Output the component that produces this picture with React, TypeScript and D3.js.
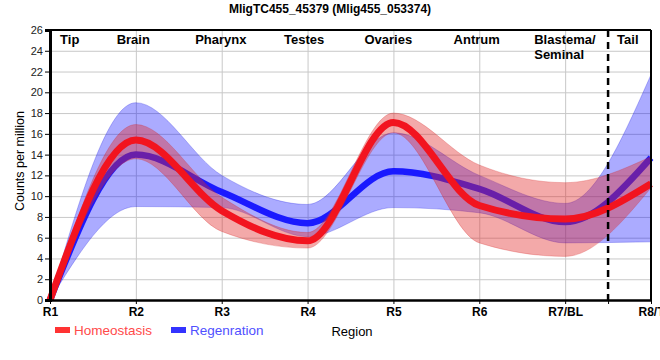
import { useEffect, useRef } from 'react';
import * as d3 from 'd3';

// regions along the worm (x axis)
const regionTicks = ["R1", "R2", "R3", "R4", "R5", "R6", "R7/BL", "R8/T"];
const regionNames = ["Tip", "Brain", "Pharynx", "Testes", "Ovaries", "Antrum", "Blastema/\nSeminal", "Tail"];

// Homeostasis: mean line and band (counts per million)
const homeoMean = [0, 15.4, 8.6, 5.7, 17.1, 9.1, 7.8, 11.2];
const homeoUpper = [0, 16.9, 9.9, 6.5, 18.0, 13.0, 11.3, 13.8];
const homeoLower = [0, 13.6, 6.6, 5.0, 16.1, 5.5, 4.2, 10.8];

// Regeneration: mean line and band
const regenMean = [0, 14.0, 10.4, 7.4, 12.4, 10.7, 7.5, 13.7];
const regenUpper = [0, 19.0, 12.0, 9.2, 16.1, 12.0, 9.3, 21.7];
const regenLower = [0, 9.0, 8.9, 6.1, 8.9, 8.4, 5.5, 5.6];

const yTicks = d3.range(0, 27, 2);

export default function App() {
    const svgRef = useRef<SVGSVGElement>(null);

    useEffect(() => {
        if (!svgRef.current) return;
        const svg = d3.select(svgRef.current);
        svg.selectAll("*").remove();

        const width = 660;
        const height = 360;
        const marginLeft = 50;
        const marginRight = 9;
        const marginTop = 30;
        const marginBottom = 60;
        const font = "'Liberation Sans', Arial, sans-serif";

        const x = d3.scaleLinear()
            .domain([1, 8])
            .range([marginLeft, width - marginRight]);
        const y = d3.scaleLinear()
            .domain([0, 26])
            .range([height - marginBottom, marginTop]);

        const idx = d3.range(regionTicks.length);

        // gridlines
        const grid = svg.append("g").attr("stroke", "#c8c8c8").attr("stroke-width", 1);
        grid.selectAll("line.h")
            .data(yTicks.filter(t => t > 0 && t < 26))
            .join("line")
            .attr("x1", x(1)).attr("x2", x(8))
            .attr("y1", d => y(d) + 0.5).attr("y2", d => y(d) + 0.5);
        grid.selectAll("line.v")
            .data(idx.slice(1, 7))
            .join("line")
            .attr("x1", d => x(d + 1) + 0.5).attr("x2", d => x(d + 1) + 0.5)
            .attr("y1", y(26)).attr("y2", y(0));

        const area = (up: number[], lo: number[]) => d3.area<number>()
            .x(i => x(i + 1))
            .y0(i => y(lo[i]))
            .y1(i => y(up[i]))
            .curve(d3.curveMonotoneX)(idx);
        const line = (v: number[]) => d3.line<number>()
            .x(i => x(i + 1))
            .y(i => y(v[i]))
            .curve(d3.curveMonotoneX)(idx);

        // regeneration band + line
        svg.append("path")
            .attr("d", area(regenUpper, regenLower))
            .attr("fill", "rgba(0,0,255,0.33)")
            .attr("stroke", "rgba(0,0,220,0.25)");
        svg.append("path")
            .attr("d", line(regenMean))
            .attr("fill", "none")
            .attr("stroke", "#1a1aff")
            .attr("stroke-width", 6.5);

        // homeostasis band + line
        svg.append("path")
            .attr("d", area(homeoUpper, homeoLower))
            .attr("fill", "rgba(225,40,40,0.4)")
            .attr("stroke", "rgba(210,30,30,0.25)");
        svg.append("path")
            .attr("d", line(homeoMean))
            .attr("fill", "none")
            .attr("stroke", "#f2141f")
            .attr("stroke-width", 7);

        // blastema / tail divider
        svg.append("line")
            .attr("x1", x(7.5)).attr("x2", x(7.5))
            .attr("y1", y(26)).attr("y2", y(0))
            .attr("stroke", "#000")
            .attr("stroke-width", 2.5)
            .attr("stroke-dasharray", "7,5");

        // frame
        svg.append("line").attr("x1", x(1)).attr("x2", x(8)).attr("y1", y(26)).attr("y2", y(26))
            .attr("stroke", "#000").attr("stroke-width", 2);
        svg.append("line").attr("x1", x(8)).attr("x2", x(8)).attr("y1", y(26)).attr("y2", y(0))
            .attr("stroke", "#000").attr("stroke-width", 2);

        // y axis
        const yAxis = svg.append("g")
            .attr("transform", `translate(${x(1)},0)`)
            .call(d3.axisLeft(y).tickValues(yTicks).tickSize(5).tickPadding(2));
        yAxis.select(".domain").attr("stroke-width", 3);
        yAxis.selectAll("text")
            .style("font-family", font)
            .style("font-size", "11px")
            .style("fill", "#222");

        // x axis
        const xAxis = svg.append("g")
            .attr("transform", `translate(0,${y(0)})`)
            .call(d3.axisBottom(x)
                .tickValues([...idx.map(i => i + 1), 7.5])
                .tickFormat(d => (Number.isInteger(d) ? regionTicks[(d as number) - 1] : ""))
                .tickSize(4)
                .tickPadding(3)
                .tickSizeOuter(0));
        xAxis.select(".domain").attr("stroke-width", 2.5);
        xAxis.selectAll("text")
            .style("font-family", font)
            .style("font-size", "12px")
            .style("font-weight", "bold")
            .style("fill", "#000");

        // region names inside the plot
        const namePos = [1.23, 1.97, 2.99, 3.96, 4.94, 5.97, 6.64, 7.73];
        regionNames.forEach((name, i) => {
            const lines = name.split("\n");
            const t = svg.append("text")
                .attr("x", x(namePos[i]))
                .attr("y", 44)
                .attr("text-anchor", lines.length > 1 ? "start" : "middle")
                .style("font-family", font)
                .style("font-size", "13px")
                .style("font-weight", "bold");
            lines.forEach((l, j) => {
                t.append("tspan").attr("x", x(namePos[i])).attr("dy", j === 0 ? 0 : 15).text(l);
            });
        });

        // title
        svg.append("text")
            .attr("x", 330)
            .attr("y", 13)
            .attr("text-anchor", "middle")
            .style("font-family", font)
            .style("font-size", "12px")
            .style("font-weight", "bold")
            .text("MligTC455_45379 (Mlig455_053374)");

        // axis labels
        svg.append("text")
            .attr("transform", "rotate(-90)")
            .attr("x", -161)
            .attr("y", 24)
            .attr("text-anchor", "middle")
            .style("font-family", font)
            .style("font-size", "12.5px")
            .text("Counts per million");
        svg.append("text")
            .attr("x", 352)
            .attr("y", 336)
            .attr("text-anchor", "middle")
            .style("font-family", font)
            .style("font-size", "13px")
            .text("Region");

        // legend
        const legendItems = [
            { label: "Homeostasis", swatch: "#ff3333", text: "#ff4a4a", x: 55 },
            { label: "Regenration", swatch: "#3333ff", text: "#5050ff", x: 171 }
        ];
        const legend = svg.append("g");
        legend.selectAll("rect")
            .data(legendItems)
            .join("rect")
            .attr("x", d => d.x)
            .attr("y", 327)
            .attr("width", 15)
            .attr("height", 6)
            .attr("fill", d => d.swatch);
        legend.selectAll("text")
            .data(legendItems)
            .join("text")
            .attr("x", d => d.x + 19)
            .attr("y", 335)
            .text(d => d.label)
            .style("fill", d => d.text)
            .style("font-family", font)
            .style("font-size", "13.5px");
    }, []);

    return (
        <svg ref={svgRef} width={660} height={360}
            style={{ position: "absolute", left: 0, top: 0, background: "#fff" }}></svg>
    );
}
